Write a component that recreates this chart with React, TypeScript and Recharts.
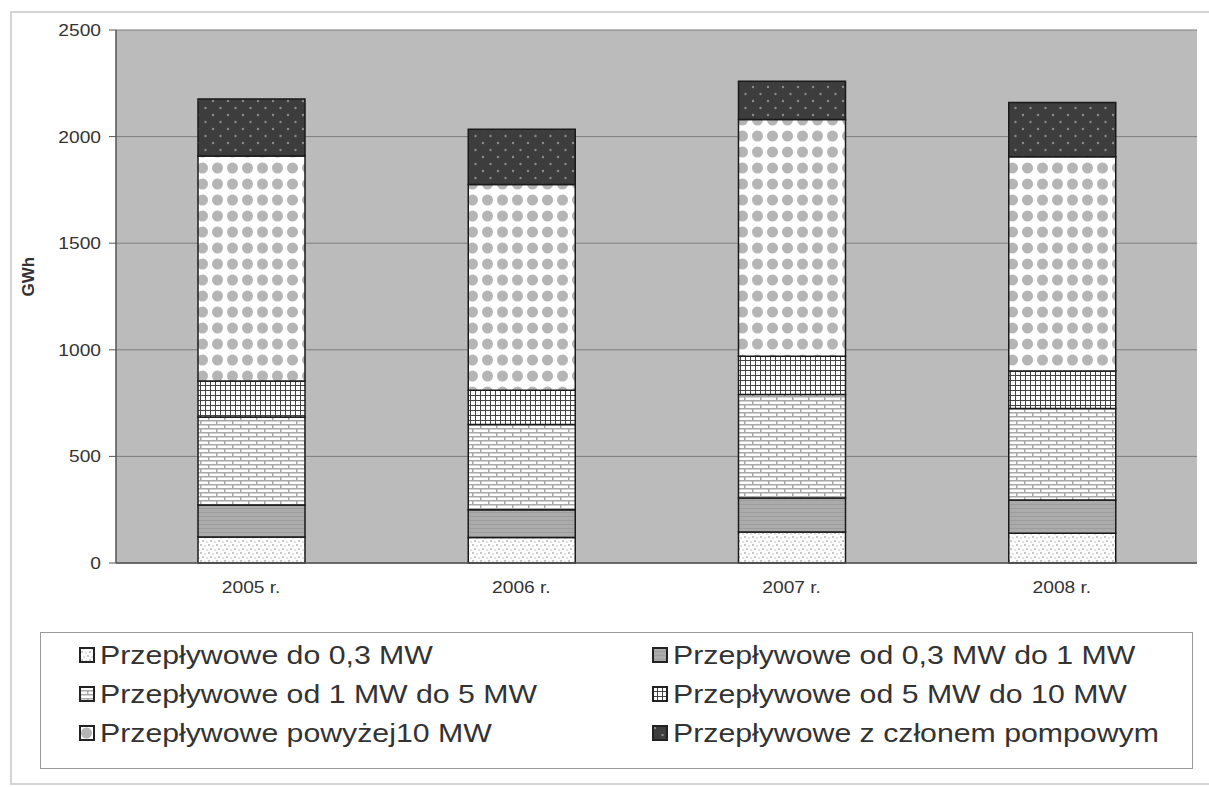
import { BarChart, Bar, XAxis, YAxis, CartesianGrid } from 'recharts';

const years = ['2005 r.', '2006 r.', '2007 r.', '2008 r.'];
const do03 = [122, 120, 145, 140];
const od03do1 = [150, 130, 160, 155];
const od1do5 = [413, 400, 485, 430];
const od5do10 = [169, 160, 180, 175];
const pow10 = [1055, 965, 1110, 1005];
const pompowe = [267, 260, 180, 255];
const yTicks = [0, 500, 1000, 1500, 2000, 2500];

const seriesNames = [
  'Przepływowe do 0,3 MW',
  'Przepływowe od 0,3 MW do 1 MW',
  'Przepływowe od 1 MW do 5 MW',
  'Przepływowe od 5 MW do 10 MW',
  'Przepływowe powyżej10 MW',
  'Przepływowe z członem pompowym',
];

const data = years.map((year, i) => ({
  year,
  s1: do03[i],
  s2: od03do1[i],
  s3: od1do5[i],
  s4: od5do10[i],
  s5: pow10[i],
  s6: pompowe[i],
}));

const keys = ['s1', 's2', 's3', 's4', 's5', 's6'];
const textColor = '#333';
const font = '"Liberation Sans", Arial, sans-serif';

function Patterns() {
  return (
    <svg width={0} height={0} style={{ position: 'absolute' }}>
      <defs>
        <pattern id="p1" patternUnits="userSpaceOnUse" width={8} height={8}>
          <rect width={8} height={8} fill="#fff" />
          <circle cx={1} cy={1} r={0.9} fill="#aaa" />
          <circle cx={5} cy={2} r={0.8} fill="#bbb" />
          <circle cx={3} cy={5} r={0.9} fill="#aaa" />
          <circle cx={7} cy={6} r={0.8} fill="#bbb" />
        </pattern>
        <pattern id="p2" patternUnits="userSpaceOnUse" width={8} height={4}>
          <rect width={8} height={4} fill="#ababab" />
          <line x1={0} y1={0.5} x2={8} y2={0.5} stroke="#9d9d9d" strokeWidth={1} />
        </pattern>
        <pattern id="p3" patternUnits="userSpaceOnUse" width={16} height={8}>
          <rect width={16} height={8} fill="#fff" />
          <line x1={0} y1={0.75} x2={16} y2={0.75} stroke="#a8a8a8" strokeWidth={1.5} />
          <line x1={0.75} y1={0} x2={0.75} y2={4} stroke="#a8a8a8" strokeWidth={1.5} />
          <line x1={8.75} y1={4} x2={8.75} y2={8} stroke="#a8a8a8" strokeWidth={1.5} />
          <line x1={0} y1={4.75} x2={16} y2={4.75} stroke="#a8a8a8" strokeWidth={1.5} />
        </pattern>
        <pattern id="p4" patternUnits="userSpaceOnUse" width={5} height={5}>
          <rect width={5} height={5} fill="#fff" />
          <line x1={0.5} y1={0} x2={0.5} y2={5} stroke="#444" strokeWidth={1} />
          <line x1={0} y1={0.5} x2={5} y2={0.5} stroke="#444" strokeWidth={1} />
        </pattern>
        <pattern id="p5" patternUnits="userSpaceOnUse" width={15} height={16}>
          <rect width={15} height={16} fill="#fff" />
          <circle cx={7.5} cy={8} r={5.5} fill="#b5b5b5" />
        </pattern>
        <pattern id="p6" patternUnits="userSpaceOnUse" width={15} height={14}>
          <rect width={15} height={14} fill="#3d3d3d" />
          <circle cx={3} cy={3} r={1.2} fill="#8a8a8a" />
          <circle cx={10.5} cy={10} r={1.2} fill="#8a8a8a" />
        </pattern>
      </defs>
    </svg>
  );
}

const YTick = ({ x, y, payload }: any) => (
  <g transform={`translate(${x},${y})`}>
    <text transform="scale(1.2,1)" x={0} y={0} dy={6} textAnchor="end" fill={textColor} fontSize={16} fontFamily={font}>
      {payload.value}
    </text>
  </g>
);

const XTick = ({ x, y, payload }: any) => (
  <g transform={`translate(${x},${y})`}>
    <text transform="scale(1.2,1)" x={0} y={0} dy={30} textAnchor="middle" fill={textColor} fontSize={16} fontFamily={font}>
      {payload.value}
    </text>
  </g>
);

function LegendBox() {
  const item = (i: number, left: number, top: number) => (
    <div key={i} style={{ position: 'absolute', left, top, height: 28, display: 'flex', alignItems: 'center', whiteSpace: 'nowrap' }}>
      <svg width={16} height={16} style={{ marginRight: 5 }}>
        <rect x={1} y={1} width={14} height={14} fill={`url(#p${i + 1})`} stroke="#222" strokeWidth={2} />
      </svg>
      <span style={{ display: 'inline-block', fontSize: 25, color: textColor, transform: 'scaleX(1.21)', transformOrigin: 'left center' }}>
        {seriesNames[i]}
      </span>
    </div>
  );
  return (
    <div style={{ position: 'absolute', left: 40, top: 632, width: 1151, height: 135, border: '1px solid #9a9a9a', background: '#fff', fontFamily: font }}>
      {item(0, 38, 8)}
      {item(1, 611, 8)}
      {item(2, 38, 47)}
      {item(3, 611, 47)}
      {item(4, 38, 86)}
      {item(5, 611, 86)}
    </div>
  );
}

export default function App() {
  return (
    <div style={{ position: 'absolute', left: 0, top: 0, width: 1209, height: 787, background: '#fff' }}>
      <Patterns />
      <div style={{ position: 'absolute', left: 10, top: 11, width: 1210, height: 774, border: '2px solid #d4d4d4', boxSizing: 'border-box' }} />
      <div style={{ position: 'absolute', left: 0, top: 0 }}>
        <BarChart width={1209} height={610} data={data} margin={{ top: 30, right: 12, left: 0, bottom: 7 }}>
          <CartesianGrid vertical={false} stroke="#7d7d7d" fill="#bbbbbb" />
          <XAxis
            dataKey="year"
            height={40}
            tick={<XTick />}
            tickLine={false}
            tickSize={0}
            tickMargin={0}
            axisLine={{ stroke: '#555', strokeWidth: 1.5 }}
          />
          <YAxis
            width={116}
            domain={[0, 2500]}
            ticks={yTicks}
            tick={<YTick />}
            tickSize={7}
            tickMargin={8}
            tickLine={{ stroke: '#555' }}
            axisLine={{ stroke: '#555', strokeWidth: 1.5 }}
            label={{ value: 'GWh', angle: -90, position: 'insideLeft', offset: 28, style: { fontWeight: 'bold', fontSize: 17, fill: textColor, fontFamily: font } }}
          />
          <YAxis yAxisId="r" orientation="right" width={0} tick={false} axisLine={{ stroke: '#8a8a8a', strokeWidth: 1.5 }} />
          {keys.map((k, i) => (
            <Bar
              key={k}
              dataKey={k}
              name={seriesNames[i]}
              stackId="a"
              barSize={107}
              fill={`url(#p${i + 1})`}
              stroke="#1a1a1a"
              strokeWidth={1.5}
              isAnimationActive={false}
            />
          ))}
        </BarChart>
      </div>
      <LegendBox />
    </div>
  );
}
